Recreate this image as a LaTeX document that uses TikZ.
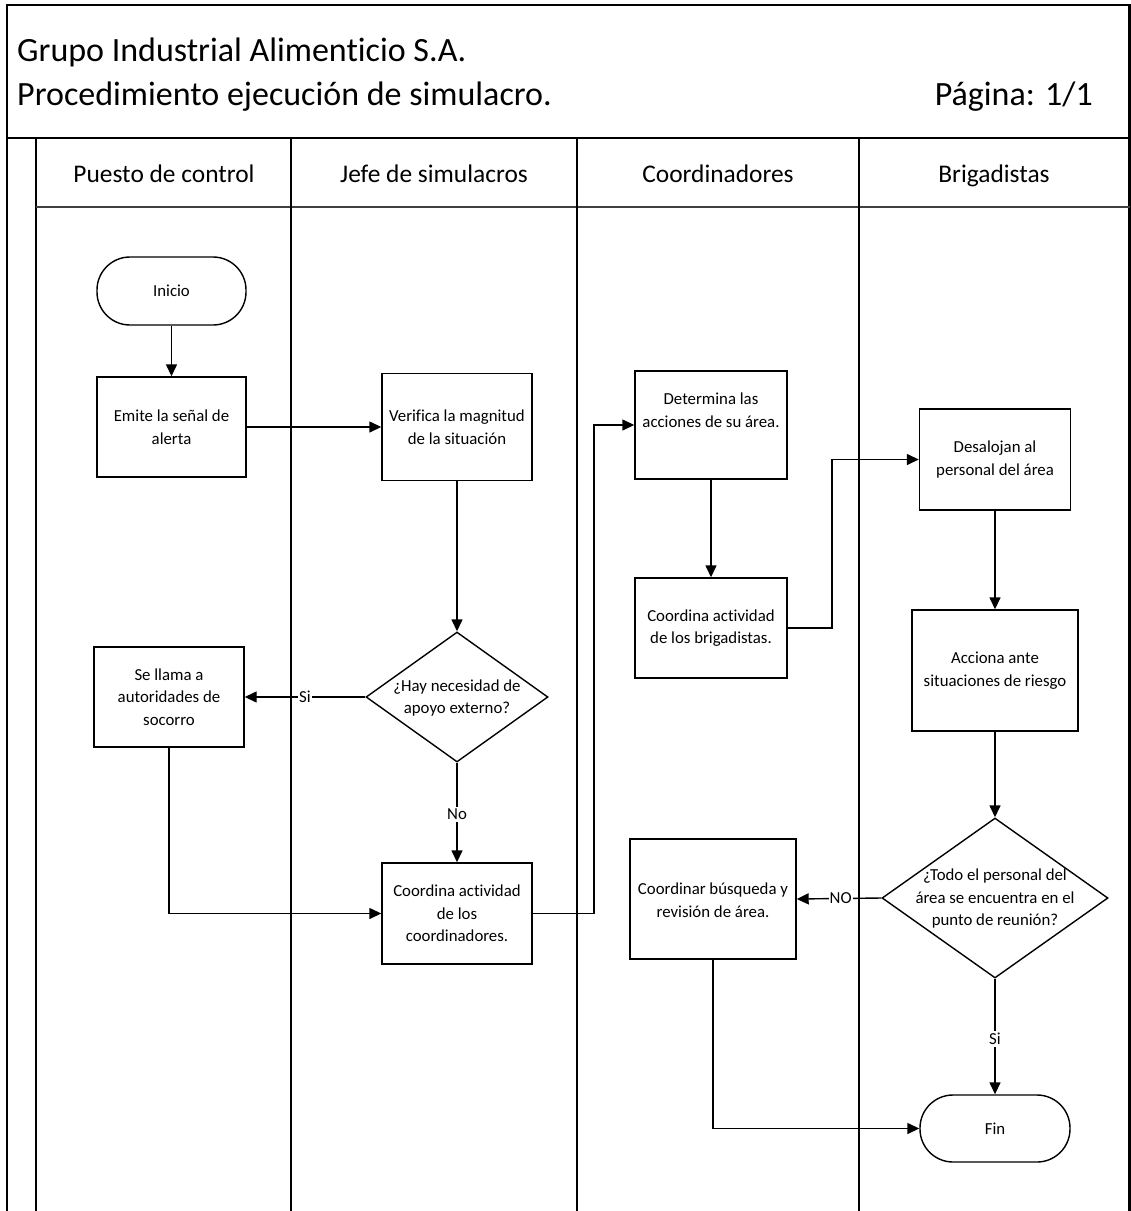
\documentclass[tikz,border=0pt]{standalone}
\usepackage{fontspec}
\setmainfont{Carlito}[Ligatures={NoCommon}]
\usetikzlibrary{arrows.meta,shapes.geometric}
\begin{document}
\begin{tikzpicture}[x=1pt,y=-1pt,
  txt/.style={font=\fontsize{16.8}{22.5}\selectfont, align=center, inner sep=0pt},
  box/.style={draw, line width=1.4pt, txt},
  term/.style={draw, line width=1.4pt, rounded corners=33pt, txt},
  dia/.style={draw, line width=1.4pt, shape=diamond, inner sep=0pt},
  flow/.style={line width=1.4pt, -{Triangle[length=12pt,width=11pt]}},
  lbl/.style={txt, fill=white, inner xsep=1pt, inner ysep=2pt},
  frame/.style={line width=2.4pt},
  lane/.style={line width=1.5pt},
  lanetitle/.style={font=\fontsize{25.4}{30}\selectfont, anchor=base, inner sep=0pt},
  title/.style={font=\fontsize{34}{40}\selectfont, inner sep=0pt}
]
\useasboundingbox (0,0) rectangle (1131,1211);
% frame
\draw[frame] (7,1211) -- (7,5) -- (1129.5,5) -- (1129.5,1211);
\draw[frame] (7,138) -- (1129.5,138);
\draw[lane] (36,138) -- (36,1211);
\draw[lane, draw=black!75] (36,207) -- (1129.5,207);
\draw[lane] (291,138) -- (291,1211);
\draw[lane] (577,138) -- (577,1211);
\draw[lane] (859,138) -- (859,1211);
% titles
\node[title, anchor=base west] (t1) at (17,61) {Grupo Industrial Alimenticio S.A.};
\node[title, anchor=base west] (t2) at (17,105) {Procedimiento ejecución de simulacro.};
\node[title, anchor=base east] (t3) at (1093,105) {Página: 1/1};
\node[lanetitle] (l1) at (164,182) {Puesto de control};
\node[lanetitle] (l2) at (434,182) {Jefe de simulacros};
\node[lanetitle] (l3) at (718,182) {Coordinadores};
\node[lanetitle] (l4) at (994,182) {Brigadistas};
% nodes
\node[term, minimum width=149pt, minimum height=68pt] (ini) at (171.5,291) {Inicio};
\node[box, minimum width=149pt, minimum height=100pt] (emi) at (171.5,427) {Emite la señal de\\alerta};
\node[box, minimum width=150pt, minimum height=107pt] (ver) at (457,427) {Verifica la magnitud\\de la situación};
\node[dia, minimum width=182pt, minimum height=130pt] (d1) at (457,697) {};
\node[txt] (d1t) at (457,698) {¿Hay necesidad de\\apoyo externo?};
\node[box, minimum width=150pt, minimum height=100pt] (sel) at (169,697) {Se llama a\\autoridades de\\socorro};
\node[box, minimum width=150pt, minimum height=101pt] (cc) at (457,913.5) {Coordina actividad\\de los\\coordinadores.};
\node[box, minimum width=152pt, minimum height=108pt] (det) at (711,425) {};
\node[txt] (dett) at (711,410) {Determina las\\acciones de su área.};
\node[box, minimum width=152pt, minimum height=100pt] (cb) at (711,628) {Coordina actividad\\de los brigadistas.};
\node[box, minimum width=151pt, minimum height=101pt] (des) at (995,459.5) {Desalojan al\\personal del área};
\node[box, minimum width=166pt, minimum height=121pt] (acc) at (995,670.5) {Acciona ante\\situaciones de riesgo};
\node[dia, minimum width=226pt, minimum height=160pt] (d2) at (995,898) {};
\node[txt] (d2t) at (995,899) {¿Todo el personal del\\área se encuentra en el\\punto de reunión?};
\node[box, minimum width=166pt, minimum height=120pt] (cbq) at (713,899) {};
\node[txt] (cbqt) at (713,900) {Coordinar búsqueda y\\revisión de área.};
\node[term, minimum width=150pt, minimum height=67pt] (fin) at (995,1128.5) {Fin};
\coordinate (j1) at (594,913.5);
\coordinate (j2) at (832,628);
% connectors
\draw[flow] (ini) -- (emi);
\draw[flow] (emi) -- (ver);
\draw[flow] (ver) -- (d1);
\draw[flow] (d1.west) -- node[lbl, pos=0.5] {Si} (sel.east);
\draw[flow] (d1.south) -- node[lbl, pos=0.52] {No} (cc.north);
\draw[flow] (sel.south) |- (cc.west);
\draw[flow] (cc.east) -- (j1) |- (det.west);
\draw[flow] (det) -- (cb);
\draw[flow] (cb.east) -- (j2) |- (des.west);
\draw[flow] (des) -- (acc);
\draw[flow] (acc) -- (d2);
\draw[flow] (d2.west) -- node[lbl, pos=0.48] {NO} (cbq.east);
\draw[flow] (d2.south) -- node[lbl, pos=0.52] {Si} (fin.north);
\draw[flow] (cbq.south) |- (fin.west);
\end{tikzpicture}
\end{document}
